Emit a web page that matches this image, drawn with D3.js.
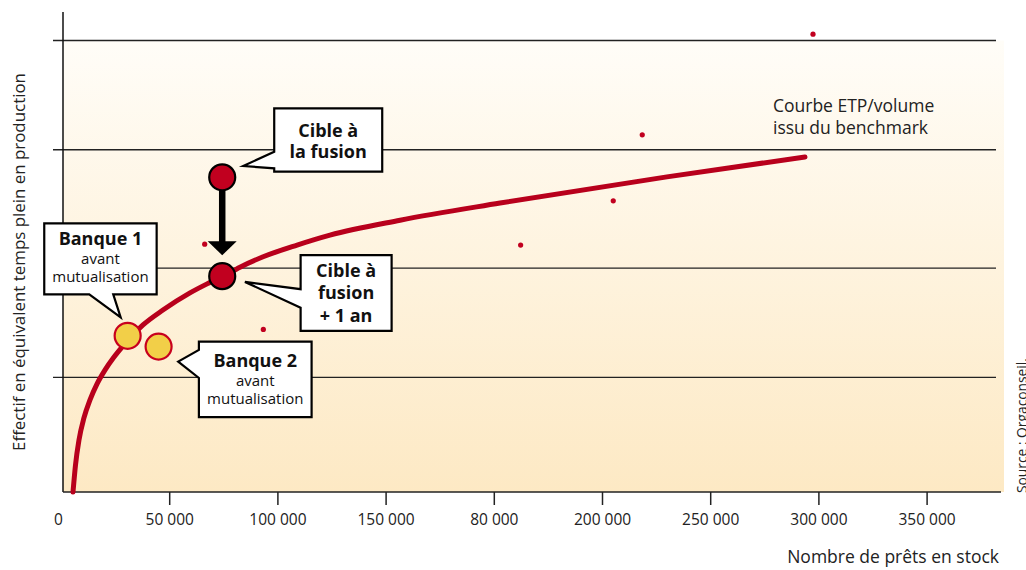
<!DOCTYPE html>
<html>
<head>
<meta charset="utf-8">
<script src="https://cdn.jsdelivr.net/npm/d3@7"></script>
<style>
  html, body { margin: 0; padding: 0; background: #fff; }
  svg { display: block; font-family: "Open Sans", "Noto Sans", sans-serif; }
</style>
</head>
<body>
<svg id="chart" width="1026" height="570"></svg>
<script>
// ---------- DATA ----------
const xTickValues = [0, 50000, 100000, 150000, 200000, 250000, 300000, 350000, 400000];
const xTickLabels = ["0", "50 000", "100 000", "150 000", "80 000", "200 000", "250 000", "300 000", "350 000"];
const yGridValues = [25.4, 49.6, 75.8, 100];

// benchmark curve (ETP / volume)
const curveX = [5550, 6700, 8300, 10600, 13400, 16600, 20300, 24500, 28200, 32800, 37900, 47100, 59600, 67500, 74900, 82700, 93400, 109100, 124300, 156700, 202900, 280000, 343800];
const curveY = [0, 6.0, 11.5, 16.4, 20.4, 23.9, 27.0, 29.9, 32.1, 34.6, 37.0, 40.3, 44.1, 46.1, 47.8, 49.8, 52.1, 54.7, 56.9, 60.2, 64.0, 69.8, 74.2];

// benchmark points
const benchX = [66400, 93500, 212400, 255200, 268600, 347500];
const benchY = [54.9, 36.0, 54.7, 64.5, 79.1, 101.4];

// highlighted entities
const entityNames = ["Banque 1", "Banque 2", "Cible à la fusion", "Cible à fusion + 1 an"];
const entityX = [30800, 45100, 74500, 74500];
const entityY = [34.6, 32.2, 69.7, 47.8];
const entityKind = ["bank", "bank", "target", "target"];

const curveLabel = ["Courbe ETP/volume", "issu du benchmark"];
const xTitle = "Nombre de prêts en stock";
const yTitle = "Effectif en équivalent temps plein en production";
const sourceText = "Source : Orgaconseil.";

// ---------- LAYOUT ----------
const svg = d3.select("#chart");
const L = 63, R = 1004, T = 40.5, B = 492;
const x = d3.scaleLinear().domain([0, 400000]).range([61, 926.6]);
const y = d3.scaleLinear().domain([0, 100]).range([B, T]);

const RED = "#c1001f", CURVE = "#b8001c", YEL = "#f2cf48";

// background gradient
const defs = svg.append("defs");
const grad = defs.append("linearGradient").attr("id", "bg").attr("x1", 0).attr("y1", 0).attr("x2", 0).attr("y2", 1);
grad.append("stop").attr("offset", "0%").attr("stop-color", "#fffdf8");
grad.append("stop").attr("offset", "100%").attr("stop-color", "#fde9c4");
svg.append("rect").attr("x", L).attr("y", T).attr("width", R - L).attr("height", B - T).attr("fill", "url(#bg)");

// gridlines (y ticks extending left of axis)
svg.append("g").selectAll("line").data(yGridValues).join("line")
  .attr("x1", 53).attr("x2", 996)
  .attr("y1", d => y(d)).attr("y2", d => y(d))
  .attr("stroke", "#222").attr("stroke-width", 1.3);

// y axis line
svg.append("line").attr("x1", L).attr("x2", L).attr("y1", 12).attr("y2", B)
  .attr("stroke", "#111").attr("stroke-width", 1.5);

// x axis
const xAxis = d3.axisBottom(x).tickValues(xTickValues)
  .tickFormat((d, i) => xTickLabels[i]).tickSize(13).tickPadding(9);
const gx = svg.append("g").attr("transform", `translate(0,${B})`).call(xAxis);
gx.select(".domain").remove();
gx.selectAll(".tick line").attr("stroke", "#222").attr("stroke-width", 1.5)
  .filter(d => d === 0).remove();
gx.selectAll(".tick text").attr("fill", "#222").attr("font-size", 15.5)
  .attr("font-family", "'Open Sans', sans-serif")
  .filter(d => d === 0).attr("dx", -3);
svg.append("line").attr("x1", L).attr("x2", 1001).attr("y1", B).attr("y2", B)
  .attr("stroke", "#222").attr("stroke-width", 1.6);

// axis titles
svg.append("text").attr("x", 999).attr("y", 563).attr("text-anchor", "end")
  .attr("font-size", 17.5).attr("fill", "#222").text(xTitle);
svg.append("text").attr("transform", "translate(24.5,262) rotate(-90)").attr("text-anchor", "middle")
  .attr("font-size", 16.9).attr("fill", "#222").text(yTitle);
svg.append("text").attr("transform", "translate(1026.5,493) rotate(-90)").attr("text-anchor", "start")
  .attr("font-size", 13.8).attr("fill", "#222").text(sourceText);

// benchmark points
svg.append("g").selectAll("circle").data(benchX.map((v, i) => [v, benchY[i]])).join("circle")
  .attr("cx", d => x(d[0])).attr("cy", d => y(d[1])).attr("r", 2.6).attr("fill", RED);

// curve
const curvePts = curveX.map((v, i) => [v, curveY[i]]);
const line = d3.line().x(d => x(d[0])).y(d => y(d[1])).curve(d3.curveMonotoneX);
svg.append("path").attr("d", line(curvePts)).attr("fill", "none")
  .attr("stroke", CURVE).attr("stroke-width", 5).attr("stroke-linecap", "round");

// curve label
const endPt = curvePts[curvePts.length - 1];
const lbl = svg.append("text").attr("x", x(endPt[0]) - 32).attr("y", y(endPt[1]) - 45)
  .attr("font-size", 17.5).attr("fill", "#222");
curveLabel.forEach((t, i) => lbl.append("tspan").attr("x", x(endPt[0]) - 32).attr("dy", i ? 21.6 : 0).text(t));

// entity positions
const P = entityX.map((v, i) => ({ x: x(v), y: y(entityY[i]), kind: entityKind[i], name: entityNames[i] }));
const RR = 13;

// arrow from "Cible à la fusion" to "+1 an"
const a0 = P[2], a1 = P[3];
const tipY = a1.y - RR - 8;
svg.append("line").attr("x1", a0.x).attr("x2", a0.x).attr("y1", a0.y + RR).attr("y2", tipY - 12)
  .attr("stroke", "#000").attr("stroke-width", 6.5);
svg.append("path").attr("d", `M${a0.x - 14.5},${tipY - 14}L${a0.x + 14.5},${tipY - 14}L${a0.x},${tipY}Z`).attr("fill", "#000");

// entity circles
svg.append("g").selectAll("circle").data(P).join("circle")
  .attr("cx", d => d.x).attr("cy", d => d.y).attr("r", RR)
  .attr("fill", d => d.kind === "bank" ? YEL : RED)
  .attr("stroke", d => d.kind === "bank" ? "#c8001e" : "#000")
  .attr("stroke-width", 2.2);

// callouts (geometry relative to each anchor)
const callouts = [
  { a: P[0], bx: -83.4, by: -112.4, w: 112.4, h: 71, side: "bottom", b0: -38.4, b1: -14.4, tx: -7, ty: -18.4,
    lines: [["Banque 1", true, 22], ["avant", false, 40.5], ["mutualisation", false, 58.6]] },
  { a: P[1], bx: 40.3, by: -5, w: 112.7, h: 75.6, side: "left", b0: 3.3, b1: 31.3, tx: 19.6, ty: 15,
    lines: [["Banque 2", true, 25], ["avant", false, 44.3], ["mutualisation", false, 62.3]] },
  { a: P[2], bx: 52, by: -69, w: 108, h: 63.4, side: "left", b0: -25.6, b1: -9, tx: 21, ty: -11.3,
    lines: [["Cible à", true, 28.4], ["la fusion", true, 50]] },
  { a: P[3], bx: 78.4, by: -21, w: 91, h: 75.7, side: "left", b0: 13, b1: 31.5, tx: 22.7, ty: 5.7,
    lines: [["Cible à", true, 21.7], ["fusion", true, 44.3], ["+ 1 an", true, 66.7]] }
];

callouts.forEach(c => {
  const x0 = c.a.x + c.bx, y0 = c.a.y + c.by, x1 = x0 + c.w, y1 = y0 + c.h;
  const tx = c.a.x + c.tx, ty = c.a.y + c.ty;
  let d;
  if (c.side === "left") {
    const s0 = c.a.y + c.b0, s1 = c.a.y + c.b1;
    d = `M${x0},${y0}H${x1}V${y1}H${x0}V${s1}L${tx},${ty}L${x0},${s0}Z`;
  } else {
    const s0 = c.a.x + c.b0, s1 = c.a.x + c.b1;
    d = `M${x0},${y0}H${x1}V${y1}H${s1}L${tx},${ty}L${s0},${y1}H${x0}Z`;
  }
  svg.append("path").attr("d", d).attr("fill", "#fff").attr("stroke", "#000")
    .attr("stroke-width", 2.2).attr("stroke-linejoin", "miter");
  c.lines.forEach(([t, bold, dy]) => {
    svg.append("text").attr("x", (x0 + x1) / 2).attr("y", y0 + dy)
      .attr("text-anchor", "middle")
      .attr("font-size", bold ? 18 : 15)
      .attr("font-weight", bold ? 700 : 400)
      .attr("fill", "#111").text(t);
  });
});
</script>
</body>
</html>
